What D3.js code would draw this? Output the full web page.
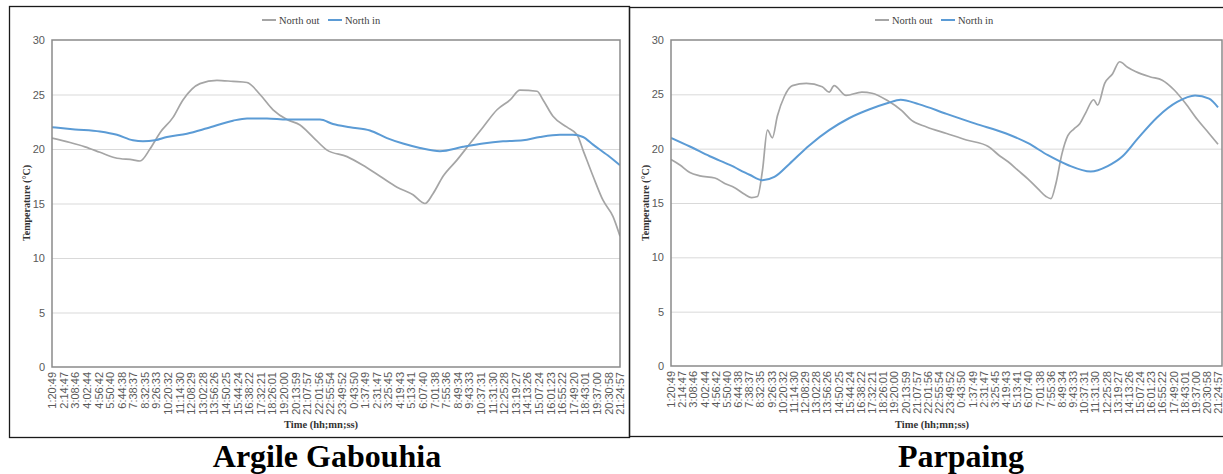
<!DOCTYPE html>
<html>
<head>
<meta charset="utf-8">
<script src="https://cdn.jsdelivr.net/npm/d3@7"></script>
<style>
    body { margin: 0; background: #fff; }
    svg { display: block; font-family: "Liberation Serif", "Times New Roman", serif; }
    .axis .tick text { fill: #595959; }
    .axis path.domain { display: none; }
    .y-axis .tick line { stroke: #d9d9d9; }
</style>
</head>
<body>
<svg id="chart" width="1223" height="474"></svg>
<script>
// x tick labels (hh:mm:ss), same on both panels
const timeLabels = [
    '1:20:49', '2:14:47', '3:08:46', '4:02:44', '4:56:42', '5:50:40', '6:44:38', '7:38:37', '8:32:35', '9:26:33',
    '10:20:32', '11:14:30', '12:08:29', '13:02:28', '13:56:26', '14:50:25', '15:44:24', '16:38:22', '17:32:21', '18:26:01',
    '19:20:00', '20:13:59', '21:07:57', '22:01:56', '22:55:54', '23:49:52', '0:43:50', '1:37:49', '2:31:47', '3:25:45',
    '4:19:43', '5:13:41', '6:07:40', '7:01:38', '7:55:36', '8:49:34', '9:43:33', '10:37:31', '11:31:30', '12:25:28',
    '13:19:27', '14:13:26', '15:07:24', '16:01:23', '16:55:22', '17:49:20', '18:43:01', '19:37:00', '20:30:58', '21:24:57'
];
const yTicks = [0, 5, 10, 15, 20, 25, 30];
const seriesNames = ['North out', 'North in'];
const seriesColors = ['#a5a5a5', '#5b9bd5'];

// Argile Gabouhia (hours since 1:20:49, °C)
const argileOutHours = [0, 1.40, 2.56, 3.72, 4.89, 6.28, 6.83, 7.60, 8.38, 9.39, 10.16, 11.48, 12.80, 14.04, 15.13,
    16.14, 17.15, 18.23, 19.24, 20.25, 21.34, 22.89, 24.13, 25.45, 26.77, 28.01, 28.94, 29.56, 30.34, 31.43,
    32.43, 33.44, 34.53, 35.54, 36.31, 37.63, 38.10, 38.87, 39.96, 40.74, 41.20, 41.98, 42.75, 43.53, 44.07];
const argileOutTemp = [21.0, 20.6, 20.2, 19.7, 19.2, 19.0, 18.9, 20.0, 21.5, 22.9, 24.5, 26.0, 26.3, 26.2, 26.1,
    25.0, 23.6, 22.7, 22.2, 21.1, 19.9, 19.3, 18.5, 17.5, 16.5, 15.8, 15.0, 15.9, 17.5, 19.0,
    20.5, 22.0, 23.6, 24.5, 25.4, 25.3, 24.5, 23.0, 22.0, 21.3, 19.9, 17.5, 15.3, 13.8, 12.0];
const argileInHours = [0, 1.78, 3.72, 5.04, 6.28, 7.06, 7.99, 8.92, 10.47, 12.03, 14.04, 15.13, 16.68, 18.23, 20.79,
    21.80, 23.12, 24.67, 25.99, 27.23, 28.55, 30.10, 31.89, 33.44, 34.99, 36.54, 37.86, 39.41, 40.42, 41.20,
    41.98, 43.14, 44.07];
const argileInTemp = [22.0, 21.8, 21.6, 21.3, 20.8, 20.7, 20.8, 21.1, 21.4, 21.9, 22.6, 22.8, 22.8, 22.7, 22.7,
    22.3, 22.0, 21.7, 21.0, 20.5, 20.1, 19.8, 20.2, 20.5, 20.7, 20.8, 21.1, 21.3, 21.3, 21.1,
    20.4, 19.4, 18.5];

// Parpaing
const parpaingOutHours = [0, 0.72, 1.52, 2.32, 3.53, 4.33, 5.13, 5.93, 6.49, 6.97, 7.37, 7.77, 8.17, 8.57, 9.13,
    9.78, 10.90, 12.18, 12.74, 13.14, 14.10, 15.38, 16.19, 17.47, 18.59, 19.39, 20.59, 22.20, 23.80, 25.56,
    26.52, 27.16, 27.96, 28.77, 29.57, 30.21, 30.61, 31.01, 31.49, 31.97, 32.45, 32.93, 33.41, 34.05, 34.37,
    34.94, 35.58, 36.14, 36.78, 37.42, 38.62, 39.58, 40.54, 41.43, 42.39, 43.35, 44.07];
const parpaingOutTemp = [19.0, 18.5, 17.8, 17.5, 17.3, 16.8, 16.4, 15.8, 15.5, 15.6, 18.0, 21.7, 21.0, 23.0, 24.8,
    25.8, 26.0, 25.7, 25.2, 25.8, 24.9, 25.2, 25.1, 24.4, 23.5, 22.6, 22.0, 21.4, 20.8, 20.2,
    19.3, 18.8, 18.0, 17.2, 16.3, 15.6, 15.4, 16.8, 19.5, 21.2, 21.8, 22.3, 23.3, 24.5, 24.0,
    26.0, 26.9, 28.0, 27.5, 27.1, 26.6, 26.3, 25.4, 24.2, 22.7, 21.4, 20.4];
const parpaingInHours = [0, 1.52, 3.12, 4.73, 6.33, 7.37, 8.33, 9.54, 11.14, 12.74, 14.34, 15.95, 17.47, 18.50, 19.95,
    22.20, 24.52, 27.00, 28.77, 30.37, 31.97, 33.81, 35.18, 36.38, 37.58, 39.18, 40.78, 42.22, 43.35, 44.07];
const parpaingInTemp = [21.0, 20.2, 19.3, 18.5, 17.6, 17.1, 17.4, 18.6, 20.3, 21.7, 22.8, 23.6, 24.2, 24.5, 24.1,
    23.2, 22.3, 21.4, 20.5, 19.4, 18.5, 17.9, 18.4, 19.3, 20.9, 22.9, 24.3, 24.9, 24.6, 23.8];

// elapsed hours of each tick label (day rolls over after 23:49:52)
const toSec = s => { const [h, m, sec] = s.split(':').map(Number); return h * 3600 + m * 60 + sec; };
const t0 = toSec(timeLabels[0]);
let dayOffset = 0, prevSec = -1;
const tickHours = timeLabels.map(s => {
    let t = toSec(s) + dayOffset;
    if (t < prevSec) { dayOffset += 86400; t += 86400; }
    prevSec = t;
    return (t - t0) / 3600;
});

const zip = (hs, vs) => hs.map((h, i) => ({h: h, v: vs[i]}));

class TempChart {
    constructor(_config, _series) {
        this.config = _config;
        this.series = _series;
        this.initVis();
    }

    initVis() {
        let vis = this;
        const c = vis.config;

        vis.svg = d3.select('#chart');
        vis.g = vis.svg.append('g');

        // outer frame
        vis.g.append('rect')
            .attr('x', c.frame[0] + 0.5).attr('y', c.frame[1] + 0.5)
            .attr('width', c.frame[2]).attr('height', c.frame[3])
            .attr('fill', 'none').attr('stroke', '#1a1a1a').attr('stroke-width', 1.3);

        vis.width = c.plot.right - c.plot.left;
        vis.height = c.plot.bottom - c.plot.top;

        vis.xScale = d3.scaleLinear()
            .domain([0, d3.max(tickHours)])
            .range([0, vis.width - c.xEndPad]);
        vis.yScale = d3.scaleLinear()
            .domain([0, 30])
            .range([vis.height, 0]);

        vis.chart = vis.g.append('g')
            .attr('transform', `translate(${c.plot.left},${c.plot.top})`);

        vis.clipId = c.id + '-clip';
        vis.chart.append('clipPath').attr('id', vis.clipId)
            .append('rect').attr('width', vis.width).attr('height', vis.height);

        vis.yAxis = d3.axisLeft(vis.yScale)
            .tickValues(yTicks)
            .tickSize(-vis.width)
            .tickPadding(7);
        vis.xAxis = d3.axisBottom(vis.xScale)
            .tickValues(tickHours)
            .tickSize(0)
            .tickFormat((d, i) => timeLabels[i]);

        vis.yAxisG = vis.chart.append('g').attr('class', 'axis y-axis');
        vis.xAxisG = vis.chart.append('g').attr('class', 'axis x-axis')
            .attr('transform', `translate(0,${vis.height})`);

        vis.line = d3.line()
            .x(d => vis.xScale(d.h))
            .y(d => vis.yScale(d.v))
            .curve(d3.curveMonotoneX);

        vis.renderVis();
    }

    renderVis() {
        let vis = this;
        const c = vis.config;

        vis.yAxisG.call(vis.yAxis);
        vis.yAxisG.selectAll('.tick text')
            .attr('font-size', 11);
        vis.yAxisG.selectAll('.tick')
            .filter(d => d === 0 || d === 30)
            .select('line').remove();

        vis.xAxisG.call(vis.xAxis);
        vis.xAxisG.selectAll('.tick text')
            .attr('font-size', 11)
            .attr('transform', 'rotate(-90)')
            .attr('text-anchor', 'end')
            .attr('x', -5)
            .attr('y', 0)
            .attr('dy', '0.33em');

        vis.chart.selectAll('.temp-line')
            .data(vis.series)
            .join('path')
            .attr('class', 'temp-line')
            .attr('clip-path', `url(#${vis.clipId})`)
            .attr('fill', 'none')
            .attr('stroke', (d, i) => seriesColors[i])
            .attr('stroke-width', (d, i) => i === 0 ? 1.7 : 2)
            .attr('stroke-linejoin', 'round')
            .attr('d', vis.line);

        // plot area border
        vis.chart.append('rect')
            .attr('width', vis.width).attr('height', vis.height)
            .attr('fill', 'none').attr('stroke', '#8a8a8a').attr('stroke-width', 1.5);

        // legend
        const legend = vis.g.selectAll('.legend-item')
            .data(seriesNames)
            .join('g')
            .attr('class', 'legend-item')
            .attr('transform', (d, i) => `translate(${c.legend[0] + i * 66},${c.legend[1]})`);
        legend.append('line')
            .attr('x1', 0).attr('x2', 14)
            .attr('stroke', (d, i) => seriesColors[i]).attr('stroke-width', 2);
        legend.append('text')
            .attr('x', 17).attr('dy', '0.35em')
            .attr('font-size', 10.5).attr('fill', '#404040')
            .text(d => d);

        // axis titles
        vis.g.append('text')
            .attr('transform', `translate(${c.yTitle[0]},${c.yTitle[1]}) rotate(-90)`)
            .attr('text-anchor', 'middle').attr('dy', '0.35em')
            .attr('font-size', 10).attr('font-weight', 'bold').attr('fill', '#333')
            .text('Temperature (°C)');
        vis.g.append('text')
            .attr('x', c.xTitle[0]).attr('y', c.xTitle[1])
            .attr('text-anchor', 'middle')
            .attr('font-size', 10.5).attr('font-weight', 'bold').attr('fill', '#333')
            .text('Time (hh;mn;ss)');

        // caption under the panel
        vis.svg.append('text')
            .attr('x', c.caption[0]).attr('y', c.caption[1])
            .attr('text-anchor', 'middle')
            .attr('font-size', 32).attr('font-weight', 'bold').attr('fill', '#000')
            .text(c.title);
    }
}

new TempChart({
    id: 'argile',
    title: 'Argile Gabouhia',
    frame: [9, 6, 620, 431],
    plot: {left: 52, right: 620, top: 40, bottom: 367},
    xEndPad: 0,
    legend: [262, 20],
    yTitle: [26, 203],
    xTitle: [321, 428],
    caption: [327, 467]
}, [zip(argileOutHours, argileOutTemp), zip(argileInHours, argileInTemp)]);

new TempChart({
    id: 'parpaing',
    title: 'Parpaing',
    frame: [629, 7, 640, 429],
    plot: {left: 671, right: 1222, top: 40, bottom: 366},
    xEndPad: 4,
    legend: [875, 20],
    yTitle: [645, 203],
    xTitle: [932, 428],
    caption: [961, 467]
}, [zip(parpaingOutHours, parpaingOutTemp), zip(parpaingInHours, parpaingInTemp)]);
</script>
</body>
</html>
